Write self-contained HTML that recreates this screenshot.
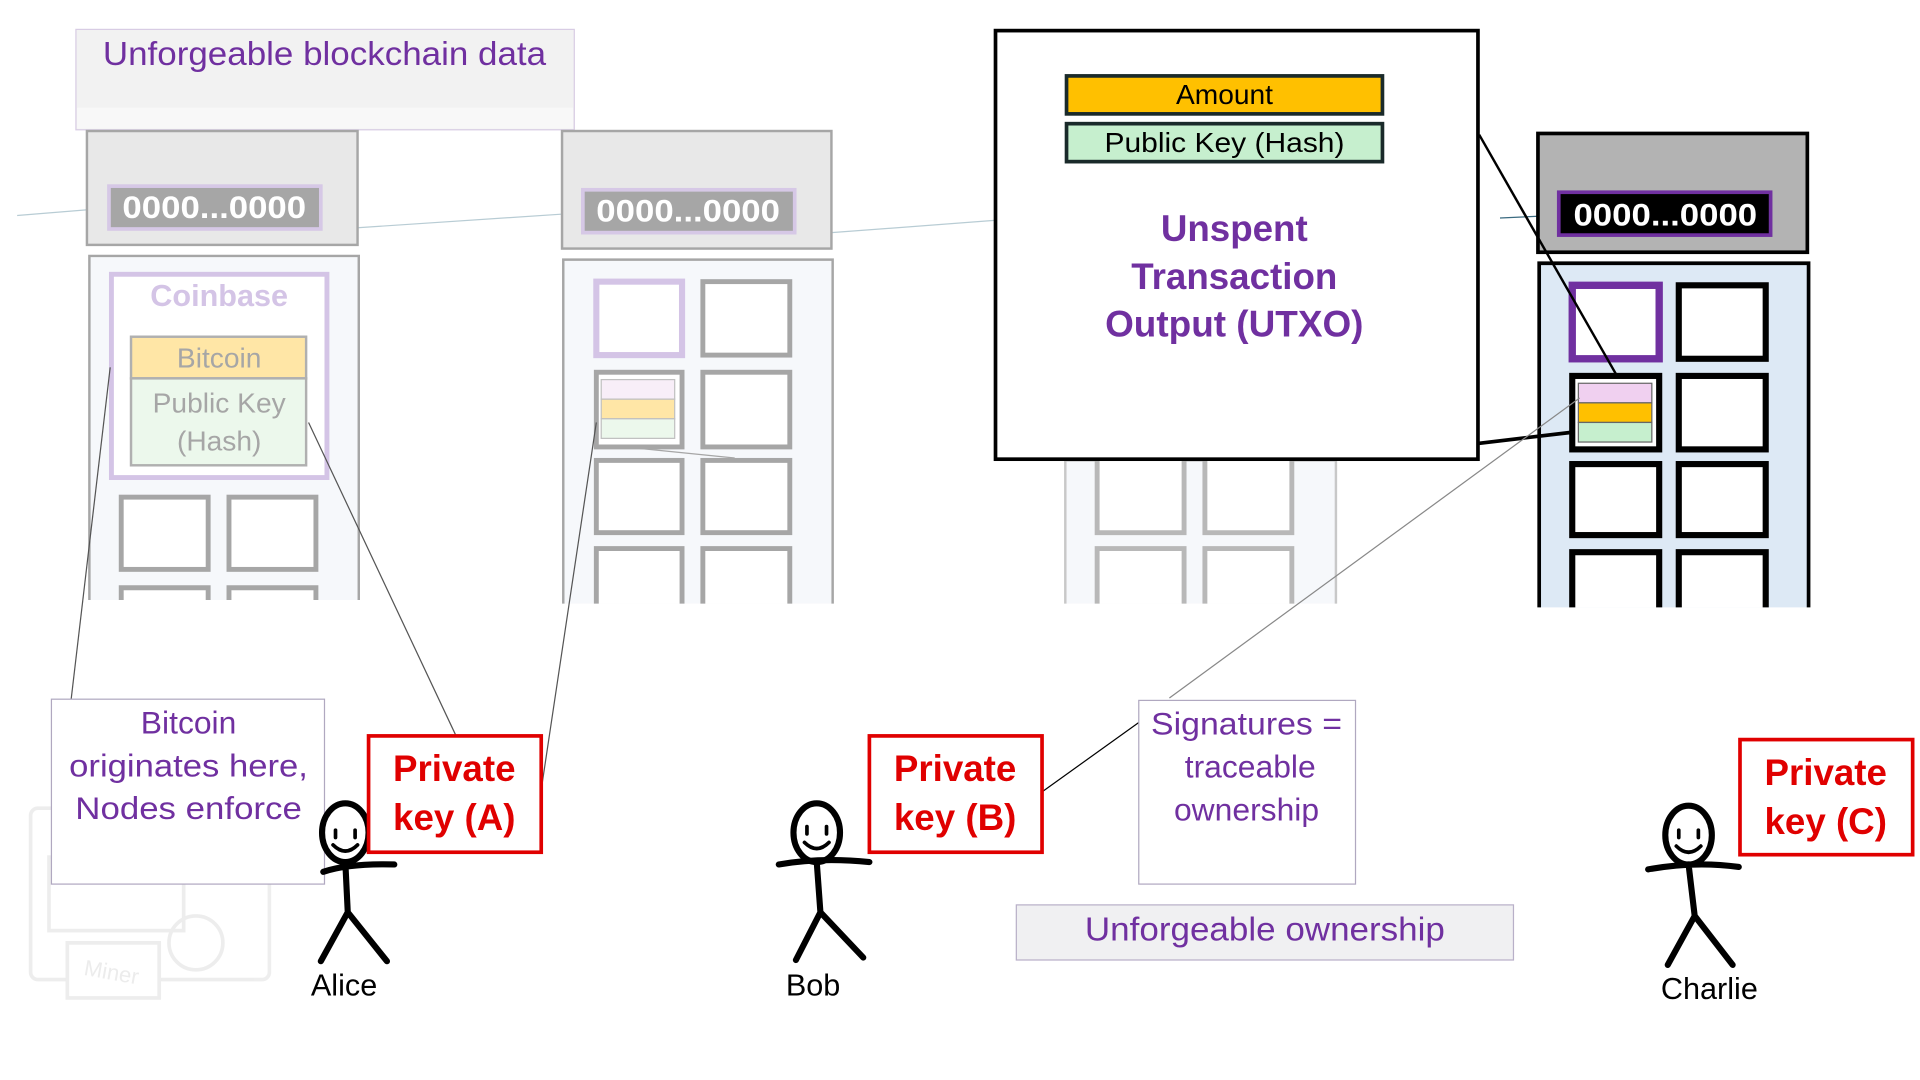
<!DOCTYPE html>
<html><head><meta charset="utf-8"><style>
html,body{margin:0;padding:0;background:#fff;width:1920px;height:1080px;overflow:hidden}
svg{display:block}
text{font-family:"Liberation Sans",sans-serif}
</style></head><body>
<svg width="1920" height="1080" viewBox="0 0 1568 882" xmlns="http://www.w3.org/2000/svg">
<rect width="1568" height="882" fill="#fff"/>
<g stroke="#b8ccd4" stroke-width="1" fill="none">
<line x1="14" y1="176" x2="88" y2="170"/>
<line x1="292" y1="186" x2="472" y2="174"/>
<line x1="679" y1="190" x2="812" y2="180"/>
<line x1="1225" y1="178" x2="1270" y2="176" stroke="#3a6a80"/>
</g>
<rect x="62" y="24" width="407" height="82" fill="#f2f2f2" stroke="#d8cce4" stroke-width="1"/>
<rect x="63" y="88" width="405" height="17" fill="#f8f8f8"/>
<text x="265" y="53" font-size="27" fill="#7030a0" text-anchor="middle" textLength="362" lengthAdjust="spacingAndGlyphs">Unforgeable blockchain data</text>

<!-- block 1 -->
<rect x="71" y="107" width="221" height="93" fill="#e8e8e8" stroke="#a6a6a6" stroke-width="2"/>
<rect x="89" y="152" width="173" height="35" fill="#a6a6a6" stroke="#d6c8e6" stroke-width="3"/>
<text x="175" y="178" font-size="26" font-weight="bold" fill="#fff" text-anchor="middle" textLength="150" lengthAdjust="spacingAndGlyphs">0000...0000</text>
<path d="M73 490 V209 H293 V490" fill="#f6f8fb" stroke="#a6a6a6" stroke-width="2"/>
<rect x="91" y="224" width="176" height="166" fill="#fff" stroke="#d4c4e6" stroke-width="4"/>
<text x="179" y="250" font-size="25" font-weight="bold" fill="#d4c4e6" text-anchor="middle">Coinbase</text>
<rect x="107" y="275" width="143" height="34" fill="#ffe6a6" stroke="#b0b0b0" stroke-width="2"/>
<rect x="107" y="309" width="143" height="71" fill="#ecf8ec" stroke="#b0b0b0" stroke-width="2"/>
<g font-size="23" fill="#a6a6a6" text-anchor="middle">
<text x="179" y="300">Bitcoin</text><text x="179" y="337">Public Key</text><text x="179" y="368">(Hash)</text></g>
<g fill="#fff" stroke="#a6a6a6" stroke-width="4">
<rect x="99" y="406" width="71" height="59"/><rect x="187" y="406" width="71" height="59"/>
<path d="M99 490 V480 H170 V490 M187 490 V480 H258 V490"/></g>

<!-- block 2 -->
<rect x="459" y="107" width="220" height="96" fill="#e8e8e8" stroke="#a6a6a6" stroke-width="2"/>
<rect x="476" y="155" width="173" height="35" fill="#a6a6a6" stroke="#d6c8e6" stroke-width="3"/>
<text x="562" y="181" font-size="26" font-weight="bold" fill="#fff" text-anchor="middle" textLength="150" lengthAdjust="spacingAndGlyphs">0000...0000</text>
<path d="M460 493 V212 H680 V493" fill="#f6f8fb" stroke="#a6a6a6" stroke-width="2"/>
<g fill="#fff" stroke="#a6a6a6" stroke-width="4">
<rect x="487" y="230" width="70" height="60" stroke="#d4c4e6" stroke-width="5"/><rect x="574" y="230" width="71" height="60"/>
<rect x="487" y="304" width="70" height="61"/><rect x="574" y="304" width="71" height="61"/>
<rect x="487" y="376" width="70" height="59"/><rect x="574" y="376" width="71" height="59"/>
<path d="M487 493 V448 H557 V493 M574 493 V448 H645 V493"/></g>
<rect x="491" y="310" width="60" height="16" fill="#f8eef8" stroke="#c0c0c0"/>
<rect x="491" y="326" width="60" height="16" fill="#ffe6a6" stroke="#c0c0c0"/>
<rect x="491" y="342" width="60" height="16" fill="#ecf8ec" stroke="#c0c0c0"/>
<line x1="520" y1="366" x2="600" y2="374" stroke="#a6a6a6" stroke-width="1"/>

<!-- block 3 -->
<path d="M870 493 V376 H1091 V493" fill="#f6f8fb" stroke="#c8c8c8" stroke-width="2"/>
<g fill="#fff" stroke="#b8b8b8" stroke-width="4">
<path d="M896 376 V435 H967 V376 M984 376 V435 H1055 V376"/>
<path d="M896 493 V448 H967 V493 M984 493 V448 H1055 V493"/></g>

<!-- block 4 -->
<rect x="1256" y="109" width="220" height="97" fill="#b3b3b3" stroke="#000" stroke-width="3"/>
<rect x="1273" y="157" width="173" height="35" fill="#000" stroke="#7030a0" stroke-width="3"/>
<text x="1360" y="184" font-size="26" font-weight="bold" fill="#fff" text-anchor="middle" textLength="150" lengthAdjust="spacingAndGlyphs">0000...0000</text>
<path d="M1257 496 V215 H1477 V496" fill="#dde9f5" stroke="#000" stroke-width="3"/>
<g fill="#fff" stroke="#000" stroke-width="5">
<rect x="1284" y="233" width="71" height="60" stroke="#7030a0" stroke-width="6"/><rect x="1371" y="233" width="71" height="60"/>
<rect x="1284" y="307" width="71" height="60"/><rect x="1371" y="307" width="71" height="60"/>
<rect x="1284" y="379" width="71" height="58"/><rect x="1371" y="379" width="71" height="58"/>
<path d="M1284 496 V451 H1355 V496 M1371 496 V451 H1442 V496"/></g>
<rect x="1289" y="313" width="60" height="16" fill="#f0d0f0" stroke="#666"/>
<rect x="1289" y="329" width="60" height="16" fill="#ffc000" stroke="#666"/>
<rect x="1289" y="345" width="60" height="16" fill="#c6efce" stroke="#666"/>

<!-- UTXO callout -->
<rect x="813" y="25" width="394" height="350" fill="#fff" stroke="#000" stroke-width="3"/>
<rect x="871" y="62" width="258" height="31" fill="#ffc000" stroke="#1a2a2a" stroke-width="3"/>
<rect x="871" y="101" width="258" height="31" fill="#c6efce" stroke="#1a2a2a" stroke-width="3"/>
<text x="1000" y="85" font-size="23" fill="#000" text-anchor="middle">Amount</text>
<text x="1000" y="124" font-size="23" fill="#000" text-anchor="middle" textLength="196" lengthAdjust="spacingAndGlyphs">Public Key (Hash)</text>
<g font-size="30" font-weight="bold" fill="#7030a0" text-anchor="middle">
<text x="1008" y="197">Unspent</text><text x="1008" y="236">Transaction</text><text x="1008" y="275" textLength="211" lengthAdjust="spacingAndGlyphs">Output (UTXO)</text></g>
<line x1="1208" y1="110" x2="1320" y2="306" stroke="#000" stroke-width="2"/>
<line x1="1208" y1="362" x2="1284" y2="353" stroke="#000" stroke-width="3"/>

<g stroke="#555" stroke-width="1" fill="none">
<line x1="50" y1="640" x2="90" y2="300"/>
<line x1="372" y1="600" x2="252" y2="345"/>
<line x1="442" y1="645" x2="487" y2="345"/>
<line x1="955" y1="570" x2="1290" y2="325" stroke="#888"/>
<line x1="852" y1="646" x2="930" y2="590" stroke="#000"/>
</g>

<!-- miner faint -->
<g opacity="0.1" stroke="#555" fill="none" stroke-width="3">
<rect x="25" y="660" width="195" height="140" rx="6"/>
<rect x="40" y="700" width="110" height="60"/>
<circle cx="160" cy="770" r="22"/>
<rect x="55" y="770" width="75" height="45" fill="#fff"/>
</g>
<text x="90" y="800" font-size="18" fill="#ececec" transform="rotate(10 90 800)" text-anchor="middle">Miner</text>

<rect x="42" y="571" width="223" height="151" fill="#fff" stroke="#b0a8c0" stroke-width="1"/>
<g font-size="26" fill="#7030a0" text-anchor="middle">
<text x="154" y="599">Bitcoin</text><text x="154" y="634" textLength="195" lengthAdjust="spacingAndGlyphs">originates here,</text><text x="154" y="669" textLength="185" lengthAdjust="spacingAndGlyphs">Nodes enforce</text></g>

<g stroke="#000" stroke-width="5" fill="none" stroke-linecap="round">
<g>
<ellipse cx="282" cy="680" rx="19" ry="24"/>
<path d="M282 704 L284 745 M284 745 L262 785 M284 745 L316 785 M264 712 Q285 705 322 706"/>
<path d="M274 678 L274 684 M290 678 L290 684 M272 690 Q282 700 292 690" stroke-width="3"/>
</g>
<g>
<ellipse cx="667" cy="680" rx="19" ry="24"/>
<path d="M667 704 L670 745 M670 745 L650 784 M670 745 L705 782 M636 706 Q670 700 710 704"/>
<path d="M659 675 L659 681 M675 675 L675 681 M657 688 Q667 698 677 688" stroke-width="3"/>
</g>
<g>
<ellipse cx="1379" cy="682" rx="19" ry="24"/>
<path d="M1379 706 L1384 748 M1384 748 L1362 788 M1384 748 L1415 788 M1346 710 Q1384 703 1420 708"/>
<path d="M1371 678 L1371 684 M1387 678 L1387 684 M1369 691 Q1379 701 1389 691" stroke-width="3"/>
</g>
</g>
<g font-size="25" fill="#000" text-anchor="middle">
<text x="281" y="813">Alice</text><text x="664" y="813">Bob</text><text x="1396" y="816">Charlie</text></g>

<g fill="#fff" stroke="#e00000" stroke-width="3">
<rect x="301" y="601" width="141" height="95"/>
<rect x="710" y="601" width="141" height="95"/>
<rect x="1421" y="604" width="141" height="94"/></g>
<g font-size="30" font-weight="bold" fill="#e00000" text-anchor="middle">
<text x="371" y="638">Private</text><text x="371" y="678">key (A)</text>
<text x="780" y="638">Private</text><text x="780" y="678">key (B)</text>
<text x="1491" y="641">Private</text><text x="1491" y="681">key (C)</text></g>

<rect x="930" y="572" width="177" height="150" fill="#fff" stroke="#b0a8c0" stroke-width="1"/>
<g font-size="26" fill="#7030a0" text-anchor="middle">
<text x="1018" y="600" textLength="156" lengthAdjust="spacingAndGlyphs">Signatures =</text><text x="1021" y="635">traceable</text><text x="1018" y="670">ownership</text></g>

<rect x="830" y="739" width="406" height="45" fill="#f0f0f2" stroke="#b8b0c8" stroke-width="1"/>
<text x="1033" y="768" font-size="27" fill="#7030a0" text-anchor="middle" textLength="294" lengthAdjust="spacingAndGlyphs">Unforgeable ownership</text>
</svg>
</body></html>
